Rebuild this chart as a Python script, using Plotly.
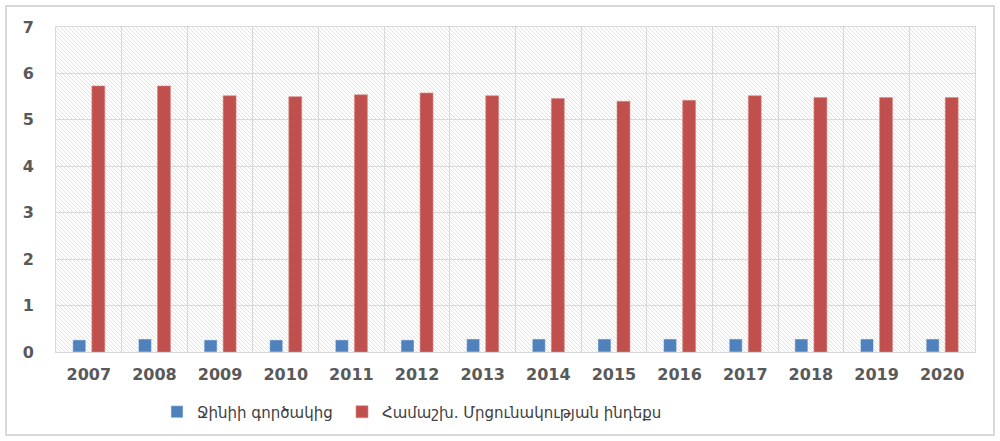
import base64
import plotly.graph_objects as go

years = ["2007", "2008", "2009", "2010", "2011", "2012", "2013",
         "2014", "2015", "2016", "2017", "2018", "2019", "2020"]
gini = [0.26, 0.28, 0.26, 0.26, 0.26, 0.26, 0.28,
        0.28, 0.28, 0.28, 0.28, 0.28, 0.28, 0.28]
gci = [5.73, 5.73, 5.52, 5.50, 5.54, 5.58, 5.52,
       5.46, 5.40, 5.42, 5.52, 5.48, 5.48, 5.48]
names = ["Ջինիի գործակից", "Համաշխ. Մրցունակության ինդեքս"]
colors = ["#4F81BD", "#C0504D"]

W, H = 1000, 441
L, R, T, B = 56, 25, 27, 89
pw, ph = W - L - R, H - T - B

fig = go.Figure()
fig.add_trace(go.Bar(x=years, y=gini, name=names[0], marker_color=colors[0],
                     legend="legend", showlegend=True))
fig.add_trace(go.Bar(x=years, y=gci, name=names[1], marker_color=colors[1],
                     marker_line=dict(color="#D98A88", width=0.6),
                     legend="legend2", showlegend=True))

# hatch background pattern for plot area
svg = (f'<svg xmlns="http://www.w3.org/2000/svg" width="{pw}" height="{ph}">'
       '<defs><pattern id="p" width="4" height="4" patternUnits="userSpaceOnUse">'
       '<path d="M-1,-1 L5,5" stroke="#e2e2e2" stroke-width="1"/></pattern></defs>'
       f'<rect width="{pw}" height="{ph}" fill="white"/>'
       f'<rect width="{pw}" height="{ph}" fill="url(#p)"/></svg>')
uri = "data:image/svg+xml;base64," + base64.b64encode(svg.encode()).decode()

leg_y = -(412 - (T + ph)) / ph
leg_common = dict(orientation="h", xanchor="left", y=leg_y, yanchor="middle",
                  font=dict(size=15, color="#404040"),
                  bgcolor="rgba(0,0,0,0)", itemwidth=30, visible=True)

fig.update_layout(
    width=W, height=H,
    margin=dict(l=L, r=R, t=T, b=B),
    showlegend=True,
    paper_bgcolor="white", plot_bgcolor="rgba(0,0,0,0)",
    barmode="group", bargap=0.42, bargroupgap=0.32,
    font=dict(family="Verdana, DejaVu Sans", color="#595959"),
    images=[dict(source=uri, xref="paper", yref="paper", x=0, y=1,
                 sizex=1, sizey=1, sizing="stretch", layer="below",
                 xanchor="left", yanchor="top")],
    legend=dict(x=(157 - L) / pw, **leg_common),
    legend2=dict(x=(342 - L) / pw, **leg_common),
    shapes=[dict(type="rect", xref="paper", yref="paper",
                 x0=(6 - L) / pw, x1=(994 - L) / pw,
                 y0=-(435 - T - ph) / ph, y1=1 + (T - 6) / ph,
                 line=dict(color="#d9d9d9", width=2), layer="below")],
)
fig.update_xaxes(
    type="category", tickson="boundaries", showgrid=True,
    gridcolor="#d9d9d9", gridwidth=1, ticks="",
    showline=True, linecolor="#d9d9d9", linewidth=1, mirror=True,
    tickfont=dict(size=16, color="#595959", family="Verdana, DejaVu Sans", weight="bold"),
    ticklabelstandoff=8,
)
fig.update_yaxes(
    range=[0, 7], dtick=1, showgrid=True, gridcolor="#d9d9d9", gridwidth=1,
    zeroline=False, showline=True, linecolor="#d9d9d9", linewidth=1, mirror=True,
    tickfont=dict(size=16, color="#595959", family="Verdana, DejaVu Sans", weight="bold"),
    ticklabelstandoff=18,
)

fig.write_html("out.html", config={"displayModeBar": False},
               post_script="document.body.style.margin='0px';")
